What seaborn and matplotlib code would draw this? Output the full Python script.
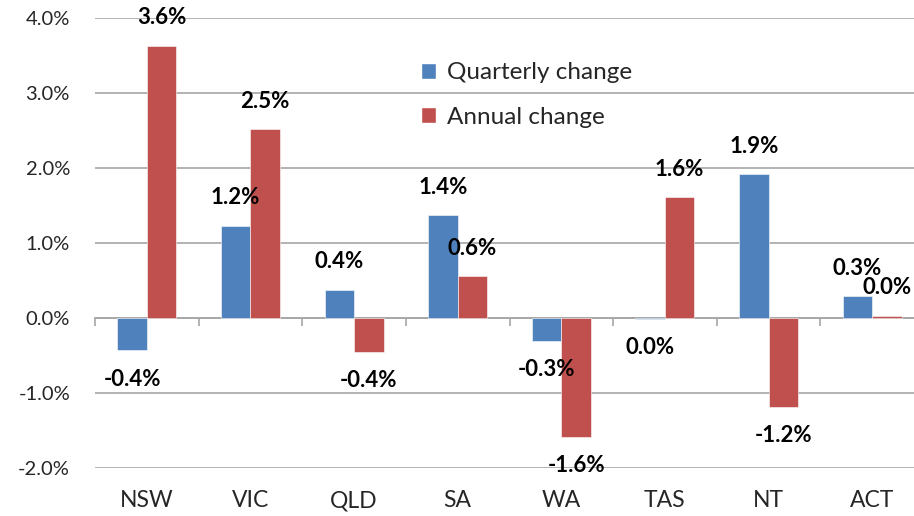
import matplotlib.pyplot as plt
import pandas as pd
import seaborn as sns
from matplotlib.patches import Patch

# chart values (percent)
states = ['NSW', 'VIC', 'QLD', 'SA', 'WA', 'TAS', 'NT', 'ACT']
quarterly = [-0.43, 1.23, 0.38, 1.37, -0.30, -0.01, 1.92, 0.29]
annual = [3.63, 2.52, -0.45, 0.56, -1.58, 1.61, -1.18, 0.03]
series = ['Quarterly change', 'Annual change']
colors = ['#4F81BD', '#C0504D']
yticks = [-2, -1, 0, 1, 2, 3, 4]

df = pd.DataFrame({
    'state': states * 2,
    'value': quarterly + annual,
    'series': [series[0]] * len(states) + [series[1]] * len(states),
})

sns.set_style('white')
plt.rcParams['font.family'] = ['Lato', 'DejaVu Sans']

fig = plt.figure(figsize=(9.14, 5.16), dpi=100)
ax = fig.add_axes([95 / 914, 1 - 468 / 516, 829 / 914, 450 / 516])

sns.barplot(data=df, x='state', y='value', hue='series', order=states,
            hue_order=series, palette=colors, saturation=1, width=0.57,
            edgecolor='white', linewidth=0.4, ax=ax)

# data labels, above positive bars and below negative ones
for cont in ax.containers:
    for bar in cont:
        v = bar.get_y() + bar.get_height()
        txt = f"{round(v, 1) + 0.0:.1f}%"
        ax.annotate(txt, (bar.get_x() + bar.get_width() / 2, v),
                    xytext=(0, 20 if v >= 0 else -21), textcoords='offset points',
                    ha='center', va='center', fontsize=16, fontweight='bold',
                    color='black')

ax.set_ylim(-2, 4)
ax.set_xlim(-0.5, 7.5)
ax.set_yticks(yticks)
ax.set_yticklabels([f"{t:.1f}%" for t in yticks], fontsize=14.5)
ax.set_xlabel('')
ax.set_ylabel('')
ax.tick_params(axis='y', length=0, pad=18)
ax.tick_params(axis='x', length=0, pad=16, labelsize=16.5)

for s in ax.spines.values():
    s.set_visible(False)
ax.yaxis.grid(True, color='#A6A6A6', linewidth=1.2)
ax.set_axisbelow(True)

# zero line with category boundary ticks
zero = ax.secondary_xaxis(1 / 3)
zero.set_xticks([i - 0.5 for i in range(len(states) + 1)])
zero.set_xticklabels([])
zero.tick_params(axis='x', direction='out', length=6, width=1.2, color='#A6A6A6')
zero.spines['bottom'].set_color('#A6A6A6')
zero.spines['bottom'].set_linewidth(1.2)

ax.get_legend().remove()
handles = [Patch(facecolor=c) for c in colors]
fig.legend(handles, series, loc='center left', bbox_to_anchor=(421 / 914, 1 - 95 / 516),
           frameon=False, fontsize=17.5, handlelength=0.6, handleheight=0.6,
           handletextpad=0.45, labelspacing=0.95, borderpad=0, borderaxespad=0)

fig.savefig('out.png', dpi=100)
